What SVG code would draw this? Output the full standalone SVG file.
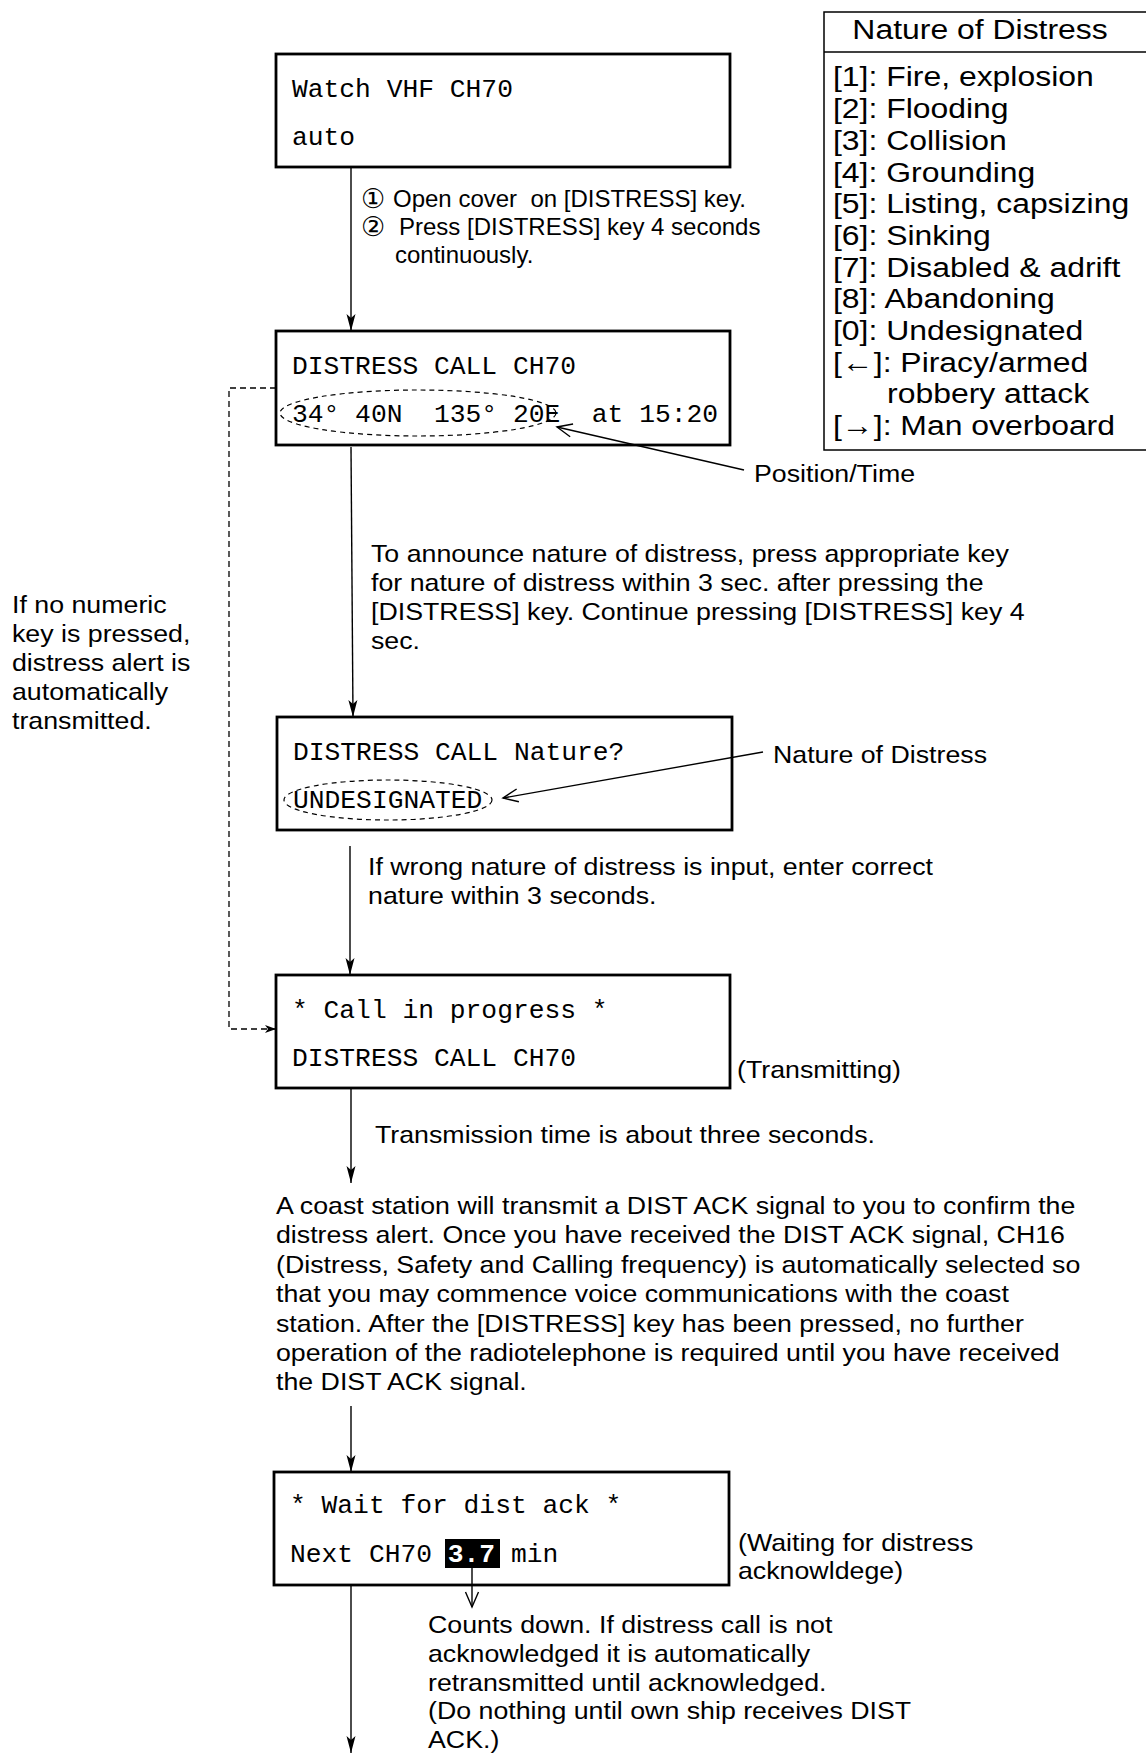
<svg xmlns="http://www.w3.org/2000/svg" width="1146" height="1753" viewBox="0 0 1146 1753">
<style>
  text { fill: #000; white-space: pre; }
  .mono { font-family: "Liberation Mono", "Courier New", monospace; font-size: 26.3px; }
  .sans { font-family: "Liberation Sans", Arial, "DejaVu Sans", "Noto Sans CJK JP", sans-serif; font-size: 24px; }
  .small { font-family: "Liberation Sans", Arial, "DejaVu Sans", "Noto Sans CJK JP", sans-serif; font-size: 24px; }
  .circ { font-family: "DejaVu Sans", "Noto Sans CJK JP", sans-serif; font-size: 27px; }
  .leg { font-family: "Liberation Sans", Arial, "DejaVu Sans", sans-serif; font-size: 28px; }
  .box { fill: none; stroke: #000; stroke-width: 2.8; }
  .conn { fill: none; stroke: #000; stroke-width: 1.4; }
  .dash { fill: none; stroke: #000; stroke-width: 1.3; stroke-dasharray: 6 4; }
  .oval { fill: none; stroke: #000; stroke-width: 1.2; stroke-dasharray: 5 4; }
</style>
<defs>
  <marker id="arr" markerUnits="userSpaceOnUse" markerWidth="20" markerHeight="12" viewBox="-18 -6 20 12" refX="0" refY="0" orient="auto">
    <path d="M0,0 L-17,-4.5 L-13,0 L-17,4.5 Z" fill="#000"/>
  </marker>
  <marker id="arrSmall" markerUnits="userSpaceOnUse" markerWidth="14" markerHeight="10" viewBox="-12 -5 14 10" refX="0" refY="0" orient="auto">
    <path d="M0,0 L-11,-4 L-8,0 L-11,4 Z" fill="#000"/>
  </marker>
  <marker id="open" markerUnits="userSpaceOnUse" markerWidth="20" markerHeight="16" viewBox="-18 -8 20 16" refX="0" refY="0" orient="auto">
    <path d="M-15,-6.5 L0,0 L-15,6.5" fill="none" stroke="#000" stroke-width="1.4"/>
  </marker>
</defs>

<g id="connectors">
  <line class="conn" x1="351" y1="168" x2="351" y2="331" marker-end="url(#arr)"/>
  <line class="conn" x1="351" y1="447" x2="353" y2="717" marker-end="url(#arr)"/>
  <line class="conn" x1="350" y1="846" x2="350" y2="975" marker-end="url(#arr)"/>
  <line class="conn" x1="351" y1="1089" x2="351" y2="1183" marker-end="url(#arr)"/>
  <line class="conn" x1="351" y1="1406" x2="351" y2="1472" marker-end="url(#arr)"/>
  <line class="conn" x1="351" y1="1586" x2="351" y2="1753" marker-end="url(#arr)"/>
  <path class="dash" d="M276,388 H229 V1029 H276" marker-end="url(#arrSmall)"/>
  <line class="conn" x1="744" y1="470" x2="557" y2="427" marker-end="url(#open)"/>
  <line class="conn" x1="763" y1="752" x2="503" y2="798" marker-end="url(#open)"/>
  <line class="conn" x1="472" y1="1568" x2="472" y2="1607" marker-end="url(#open)"/>
</g>

<g id="legend">
  <rect x="824" y="12" width="330" height="438" fill="none" stroke="#000" stroke-width="1.5"/>
  <line x1="824" y1="52" x2="1146" y2="52" stroke="#000" stroke-width="1.5"/>
  <g transform="matrix(1.14 0 0 1 -116.62 0)">
    <text class="leg" x="962" y="39" text-anchor="middle">Nature of Distress</text>
    <text class="leg" x="833" y="86">[1]: Fire, explosion</text>
    <text class="leg" x="833" y="118">[2]: Flooding</text>
    <text class="leg" x="833" y="150">[3]: Collision</text>
    <text class="leg" x="833" y="182">[4]: Grounding</text>
    <text class="leg" x="833" y="213">[5]: Listing, capsizing</text>
    <text class="leg" x="833" y="245">[6]: Sinking</text>
    <text class="leg" x="833" y="277">[7]: Disabled &amp; adrift</text>
    <text class="leg" x="833" y="308">[8]: Abandoning</text>
    <text class="leg" x="833" y="340">[0]: Undesignated</text>
    <text class="leg" x="833" y="372">[←]: Piracy/armed</text>
    <text class="leg" x="880.4" y="403">robbery attack</text>
    <text class="leg" x="833" y="435">[→]: Man overboard</text>
  </g>
</g>

<g id="node-watch">
  <rect class="box" x="276" y="54" width="454" height="113"/>
  <text class="mono" x="292" y="97">Watch VHF CH70</text>
  <text class="mono" x="292" y="145">auto</text>
</g>

<g id="label-open">
  <text class="circ" x="361" y="208">①</text>
  <text class="small" x="393" y="207">Open cover  on [DISTRESS] key.</text>
  <text class="circ" x="361" y="236">②</text>
  <text class="small" x="399" y="235">Press [DISTRESS] key 4 seconds</text>
  <text class="small" x="395" y="263">continuously.</text>
</g>

<g id="node-distress-call">
  <rect class="box" x="276" y="331" width="454" height="114"/>
  <text class="mono" x="292" y="374">DISTRESS CALL CH70</text>
  <text class="mono" x="292" y="422">34° 40N  135° 20E  at 15:20</text>
  <ellipse class="oval" cx="418" cy="413" rx="138" ry="23"/>
</g>

<g id="label-position" transform="matrix(1.115 0 0 1 -86.71 0)">
  <text class="sans" x="754" y="482">Position/Time</text>
</g>

<g id="label-no-numeric" transform="matrix(1.115 0 0 1 -1.38 0)">
  <text class="sans" x="12" y="613">If no numeric</text>
  <text class="sans" x="12" y="642">key is pressed,</text>
  <text class="sans" x="12" y="671">distress alert is</text>
  <text class="sans" x="12" y="700">automatically</text>
  <text class="sans" x="12" y="729">transmitted.</text>
</g>

<g id="label-announce" transform="matrix(1.115 0 0 1 -42.67 0)">
  <text class="sans" x="371" y="562">To announce nature of distress, press appropriate key</text>
  <text class="sans" x="371" y="591">for nature of distress within 3 sec. after pressing the</text>
  <text class="sans" x="371" y="620">[DISTRESS] key. Continue pressing [DISTRESS] key 4</text>
  <text class="sans" x="371" y="649">sec.</text>
</g>

<g id="node-nature">
  <rect class="box" x="277" y="717" width="455" height="113"/>
  <text class="mono" x="293" y="760">DISTRESS CALL Nature?</text>
  <text class="mono" x="293" y="808">UNDESIGNATED</text>
  <ellipse class="oval" cx="388" cy="800" rx="104" ry="20"/>
</g>

<g id="label-nature" transform="matrix(1.115 0 0 1 -88.9 0)">
  <text class="sans" x="773" y="763">Nature of Distress</text>
</g>

<g id="label-wrong" transform="matrix(1.115 0 0 1 -42.32 0)">
  <text class="sans" x="368" y="875">If wrong nature of distress is input, enter correct</text>
  <text class="sans" x="368" y="904">nature within 3 seconds.</text>
</g>

<g id="node-progress">
  <rect class="box" x="276" y="975" width="454" height="113"/>
  <text class="mono" x="292" y="1018">* Call in progress *</text>
  <text class="mono" x="292" y="1066">DISTRESS CALL CH70</text>
</g>

<g id="label-transmitting" transform="matrix(1.115 0 0 1 -84.76 0)">
  <text class="sans" x="737" y="1078">(Transmitting)</text>
</g>

<g id="label-transmission-time" transform="matrix(1.115 0 0 1 -43.13 0)">
  <text class="sans" x="375" y="1143">Transmission time is about three seconds.</text>
</g>

<g id="label-coast" transform="matrix(1.115 0 0 1 -31.74 0)">
  <text class="sans" x="276" y="1214">A coast station will transmit a DIST ACK signal to you to confirm the</text>
  <text class="sans" x="276" y="1243.4">distress alert. Once you have received the DIST ACK signal, CH16</text>
  <text class="sans" x="276" y="1272.8">(Distress, Safety and Calling frequency) is automatically selected so</text>
  <text class="sans" x="276" y="1302.2">that you may commence voice communications with the coast</text>
  <text class="sans" x="276" y="1331.6">station. After the [DISTRESS] key has been pressed, no further</text>
  <text class="sans" x="276" y="1361">operation of the radiotelephone is required until you have received</text>
  <text class="sans" x="276" y="1390.4">the DIST ACK signal.</text>
</g>

<g id="node-wait">
  <rect class="box" x="274" y="1472" width="455" height="113"/>
  <text class="mono" x="290" y="1513">* Wait for dist ack *</text>
  <rect x="445" y="1539" width="55" height="29" fill="#000"/>
  <text class="mono" x="290" y="1562">Next CH70 <tspan fill="#fff" font-weight="bold">3.7</tspan> min</text>
</g>

<g id="label-waiting" transform="matrix(1.115 0 0 1 -84.87 0)">
  <text class="sans" x="738" y="1551">(Waiting for distress</text>
  <text class="sans" x="738" y="1579">acknowldege)</text>
</g>

<g id="label-counts" transform="matrix(1.115 0 0 1 -49.22 0)">
  <text class="sans" x="428" y="1633">Counts down. If distress call is not</text>
  <text class="sans" x="428" y="1662">acknowledged it is automatically</text>
  <text class="sans" x="428" y="1691">retransmitted until acknowledged.</text>
  <text class="sans" x="428" y="1719">(Do nothing until own ship receives DIST</text>
  <text class="sans" x="428" y="1748">ACK.)</text>
</g>
</svg>
